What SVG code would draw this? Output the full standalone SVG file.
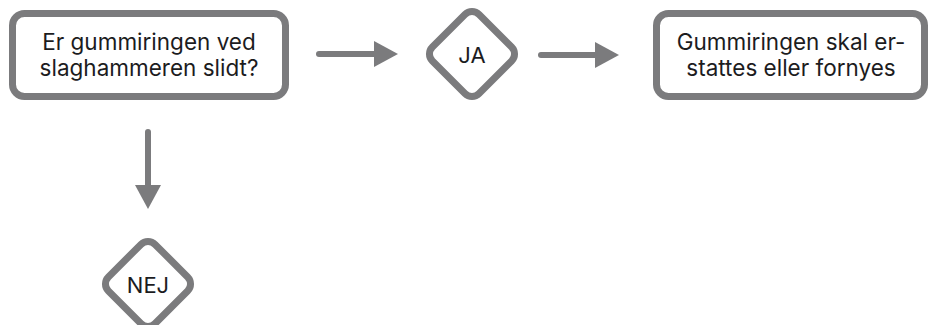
<svg xmlns="http://www.w3.org/2000/svg" width="930" height="325" viewBox="0 0 930 325">
<style>
.box{fill:#fff;stroke:#7b7b7d;stroke-width:7}
.t{font-family:Inter,"Liberation Sans",sans-serif;font-size:22.5px;fill:#1c1c1e;text-anchor:middle}
.ts{font-family:Inter,"Liberation Sans",sans-serif;font-size:22px;fill:#1c1c1e;text-anchor:middle}
.ln{stroke:#7b7b7d;stroke-width:6;stroke-linecap:round;fill:none}
.ah{fill:#7b7b7d}
</style>
<rect width="930" height="325" fill="#fff"/>
<g id="connectors">
<line class="ln" x1="319" y1="54" x2="378" y2="54"/>
<polygon class="ah" points="374,41 398,54 374,67"/>
<line class="ln" x1="541" y1="55" x2="598" y2="55"/>
<polygon class="ah" points="595,42 619,55 595,68"/>
<line class="ln" x1="148" y1="132" x2="148" y2="188"/>
<polygon class="ah" points="135,185 161,185 148,209"/>
</g>
<g id="n1">
<rect class="box" x="12.5" y="13.5" width="273" height="83" rx="12"/>
<text class="t" x="149" y="50">Er gummiringen ved</text>
<text class="t" x="149" y="76">slaghammeren slidt?</text>
</g>
<g id="ja">
<rect class="box" x="-33" y="-33" width="66" height="66" rx="10" transform="translate(472,54) rotate(45)"/>
<text class="ts" x="472" y="63">JA</text>
</g>
<g id="n3">
<rect class="box" x="656.5" y="13.5" width="268" height="83" rx="12"/>
<text class="t" x="791" y="50">Gummiringen skal er-</text>
<text class="t" x="791" y="76">stattes eller fornyes</text>
</g>
<g id="nej">
<rect class="box" x="-33" y="-33" width="66" height="66" rx="10" transform="translate(148,284) rotate(45)"/>
<text class="ts" x="148" y="293">NEJ</text>
</g>
</svg>
